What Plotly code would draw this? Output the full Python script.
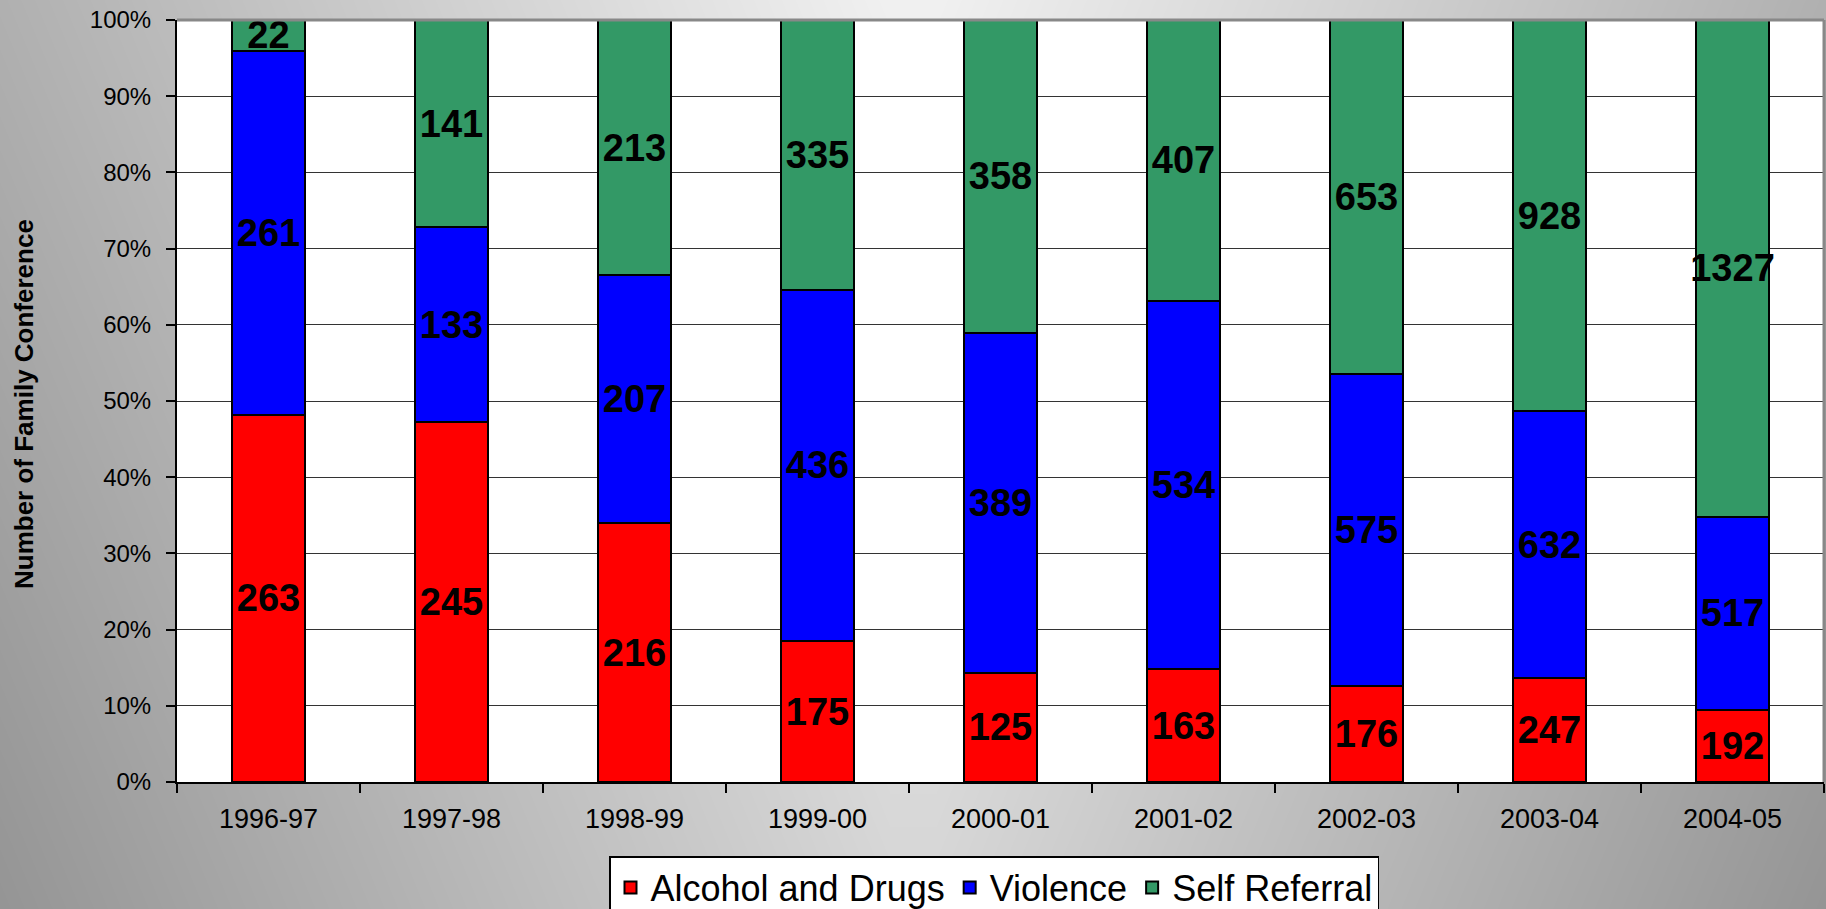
import numpy as np
import plotly.graph_objects as go

# ---- chart data ----
years = ["1996-97", "1997-98", "1998-99", "1999-00", "2000-01",
         "2001-02", "2002-03", "2003-04", "2004-05"]
alcohol_drugs = [263, 245, 216, 175, 125, 163, 176, 247, 192]
violence = [261, 133, 207, 436, 389, 534, 575, 632, 517]
self_referral = [22, 141, 213, 335, 358, 407, 653, 928, 1327]
y_tick_vals = [0, 10, 20, 30, 40, 50, 60, 70, 80, 90, 100]
y_tick_text = [f"{v}%" for v in y_tick_vals]

W, H = 1826, 909
FONT = "Arial, 'Liberation Sans', sans-serif"

# plot-area placement (page pixels)
PL, PR, PT, PB = 177, 1824, 20, 782

fig = go.Figure()

# ---- decorative background gradient (page-wide, behind the chart) ----
bx = np.linspace(0, W, 40)
by = np.linspace(0, H, 20)
BX, BY = np.meshgrid(bx, by)
bz = 242 - 0.0723 * np.abs(BX - 913) - 0.03 * BY
fig.add_trace(go.Heatmap(
    x=bx, y=by, z=bz, zmin=140, zmax=245, zsmooth="best",
    colorscale=[[0, "rgb(140,140,140)"], [1, "rgb(245,245,245)"]],
    showscale=False, hoverinfo="skip", xaxis="x", yaxis="y"))

series = [
    ("Alcohol and Drugs", alcohol_drugs, "#ff0000"),
    ("Violence", violence, "#0000ff"),
    ("Self Referral", self_referral, "#339966"),
]
for name, vals, col in series:
    fig.add_trace(go.Bar(
        name=name, x=years, y=vals, text=vals, texttemplate="%{text}",
        textposition="inside", insidetextanchor="middle", textangle=0,
        constraintext="none", cliponaxis=False,
        textfont=dict(family=FONT, size=38, color="black", weight="bold"),
        marker=dict(color=col, line=dict(color="black", width=2)),
        xaxis="x2", yaxis="y2", hoverinfo="skip"))

fig.update_layout(
    width=W, height=H,
    margin=dict(l=0, r=0, t=0, b=0, pad=0, autoexpand=False),
    paper_bgcolor="#bdbdbd", plot_bgcolor="white",
    barmode="stack", barnorm="percent", bargap=0.6,
    font=dict(family=FONT, color="black"),
    xaxis=dict(domain=[0, 1], range=[0, W], visible=False, fixedrange=True,
               automargin=False),
    yaxis=dict(domain=[0, 1], range=[H, 0], visible=False, fixedrange=True,
               automargin=False),
    xaxis2=dict(
        domain=[PL / W, PR / W], anchor="y2", type="category",
        tickson="boundaries", ticks="outside", ticklen=9, tickwidth=1.5,
        tickcolor="black", showline=True, linecolor="black", linewidth=2,
        showgrid=False, tickfont=dict(size=27, family=FONT, color="black"),
        ticklabelstandoff=12, automargin=False),
    yaxis2=dict(
        domain=[1 - PB / H, 1 - PT / H], anchor="x2", range=[0, 100],
        tickvals=y_tick_vals, ticktext=y_tick_text,
        ticks="outside", ticklen=9, tickwidth=1.5, tickcolor="black",
        showline=True, linecolor="black", linewidth=2,
        showgrid=True, gridcolor="#333333", gridwidth=1, zeroline=False,
        tickfont=dict(size=24, family=FONT, color="black"),
        ticklabelstandoff=10, automargin=False),
    legend=dict(
        orientation="h", x=994 / W, xanchor="center",
        y=1 - 856 / H, yanchor="top",
        bgcolor="white", bordercolor="black", borderwidth=1.5,
        font=dict(size=36, family=FONT, color="black"),
        traceorder="normal", itemwidth=30),
    showlegend=True,
)

# gray top and right frame of the plot area
fig.add_shape(type="line", xref="x2 domain", yref="y2 domain",
              x0=0, x1=1, y0=1, y1=1, line=dict(color="#888888", width=3))
fig.add_shape(type="line", xref="x2 domain", yref="y2 domain",
              x0=1, x1=1, y0=0, y1=1, line=dict(color="#888888", width=3))

# y-axis title
fig.add_annotation(
    text="<b>Number of Family Conference</b>", xref="paper", yref="paper",
    x=24 / W, y=1 - 404 / H, xanchor="center", yanchor="middle",
    textangle=-90, showarrow=False,
    font=dict(size=26, family=FONT, color="black"))

fig.data[0].showlegend = False

fig.write_html("out.html")
